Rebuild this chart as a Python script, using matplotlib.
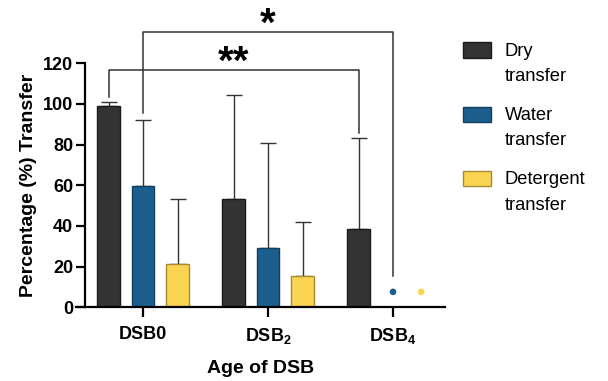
import numpy as np
import matplotlib
matplotlib.use('Agg')
import matplotlib.pyplot as plt
from matplotlib.patches import Rectangle

plt.rcParams['font.family'] = 'Liberation Sans'
plt.rcParams['mathtext.fontset'] = 'custom'
plt.rcParams['mathtext.rm'] = 'Liberation Sans:bold'
plt.rcParams['mathtext.it'] = 'Liberation Sans:bold'

groups = ['DSB0', r'DSB$_{2}$', r'DSB$_{4}$']
series = ['Dry\ntransfer', 'Water\ntransfer', 'Detergent\ntransfer']
dry = [99, 53.5, 38.3]
dry_err = [101.2, 104.5, 83.3]
water = [59.5, 29.3, None]
water_err = [92, 80.8, None]
det = [21.2, 15.2, None]
det_err = [53.3, 42, None]
dsb4_dots = [7.6, 7.6]   # water, detergent at DSB4
yticks = [0, 20, 40, 60, 80, 100, 120]

colors = ['#333333', '#1c5f8e', '#fad451']
edges = ['#1a1a1a', '#123f5f', '#a88a30']

W, H = 608, 381
fig = plt.figure(figsize=(W / 100, H / 100), dpi=100)
ax = fig.add_axes([76/W, 1 - 307.3/H, 369/W, 244/H])

x = np.arange(len(groups))
off = 0.276
w = 0.18
dark = '#333333'

for k, (vals, errs) in enumerate([(dry, dry_err), (water, water_err), (det, det_err)]):
    xs = [x[i] + (k - 1) * off for i in range(3) if vals[i] is not None]
    vs = [v for v in vals if v is not None]
    es = [e - v for e, v in zip(errs, vals) if v is not None]
    ax.bar(xs, vs, width=w, color=colors[k], edgecolor=edges[k], linewidth=1, zorder=2)
    ax.errorbar(xs, vs, yerr=[np.zeros(len(vs)), es], fmt='none', ecolor=dark,
                elinewidth=1, capsize=6, capthick=1, zorder=1)

ax.scatter([x[2], x[2] + 0.225], dsb4_dots, s=14, color=colors[1:], zorder=3)

# significance brackets
def bracket(x1, x2, y1, y2, top, txt, ty):
    ax.plot([x1, x1, x2, x2], [y1, top, top, y2], color=dark, lw=1.1,
            clip_on=False)
    ax.text((x1 + x2) / 2, ty, txt, ha='center', va='center', fontsize=29,
            fontweight='bold', clip_on=False)

bracket(x[0] - off, x[2] - off, 103.6, 85.6, 116.7, '**', 120.4)
bracket(x[0], x[2], 95.4, 15.4, 135.5, '*', 138.9)

ax.set_xlim(-0.536, 2.416)
ax.set_ylim(0, 120)
ax.set_yticks(yticks)
ax.set_xticks(x)
ax.set_xticklabels(groups)
for s in ['top', 'right']:
    ax.spines[s].set_visible(False)
ax.spines['left'].set_position(('axes', 9/369))
ax.spines['left'].set_bounds(0, 120)
for s in ['left', 'bottom']:
    ax.spines[s].set_linewidth(1.6)
ax.tick_params(axis='y', length=6.5, width=1.6, labelsize=13, pad=2)
ax.tick_params(axis='x', length=7.5, width=1.6, labelsize=13, pad=6)
for t in ax.get_yticklabels() + ax.get_xticklabels():
    t.set_fontweight('bold')

ax.set_xlabel('Age of DSB', fontsize=14, fontweight='bold', labelpad=10)
ax.set_ylabel('Percentage (%) Transfer', fontsize=14, fontweight='bold', labelpad=4)

# legend, drawn by hand to match the two-line layout
for i, lab in enumerate(series):
    top = 42.3 + 64.2 * i
    fig.patches.append(Rectangle((463/W, 1 - (top + 15.5)/H), 28/W, 15.5/H,
                                 transform=fig.transFigure, facecolor=colors[i],
                                 edgecolor=edges[i], linewidth=1))
    for j, line in enumerate(lab.split('\n')):
        fig.text(505/W, 1 - (top + 13.4 + 25.5 * j)/H, line, fontsize=13.2,
                 va='baseline', ha='left')

fig.savefig('out.png', dpi=100)
